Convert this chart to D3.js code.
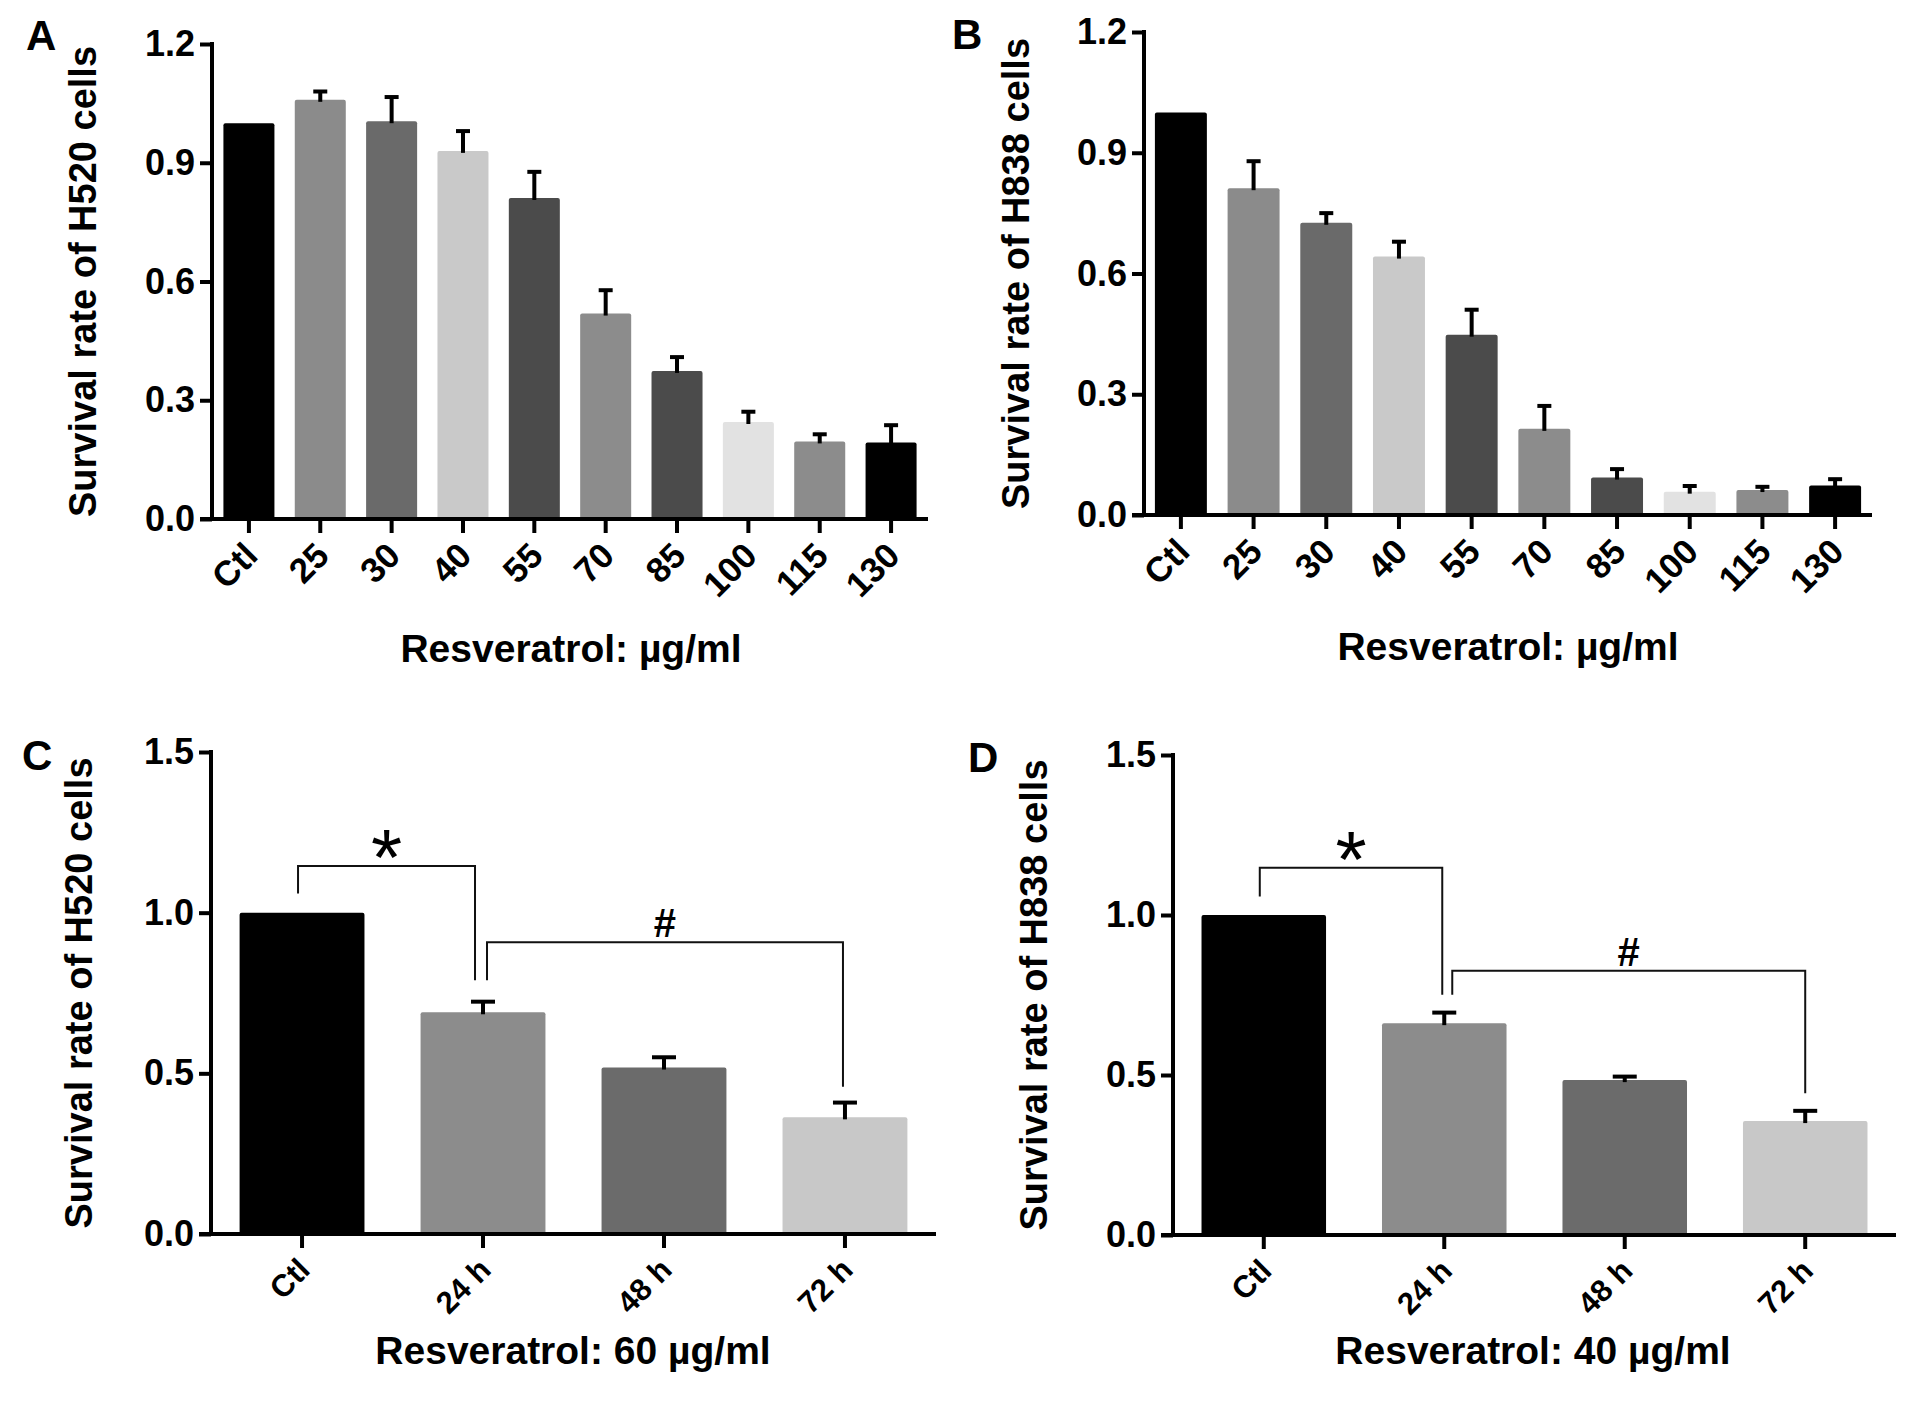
<!DOCTYPE html>
<html>
<head>
<meta charset="utf-8">
<script src="https://cdn.jsdelivr.net/npm/d3@7"></script>
<style>
  body { margin: 0; background: #fff; }
  svg { display: block; }
  text { font-family: "Liberation Sans", Arial, sans-serif; }
</style>
</head>
<body>
<script>
// dose series (A, B)
var doseLabels = ["Ctl", "25", "30", "40", "55", "70", "85", "100", "115", "130"];
var h520Dose = [1.00, 1.059, 1.005, 0.930, 0.811, 0.519, 0.374, 0.245, 0.196, 0.193];
var h520DoseSem = [0, 0.021, 0.061, 0.050, 0.066, 0.059, 0.035, 0.026, 0.018, 0.044];
var h838Dose = [1.00, 0.812, 0.726, 0.642, 0.448, 0.214, 0.093, 0.058, 0.062, 0.073];
var h838DoseSem = [0, 0.067, 0.024, 0.037, 0.062, 0.057, 0.021, 0.014, 0.008, 0.016];
var doseTicks = [0, 0.3, 0.6, 0.9, 1.2];

// time series (C, D)
var timeLabels = ["Ctl", "24 h", "48 h", "72 h"];
var h520Time = [1.00, 0.690, 0.518, 0.363];
var h520TimeSem = [0, 0.033, 0.032, 0.046];
var h838Time = [1.00, 0.662, 0.484, 0.356];
var h838TimeSem = [0, 0.033, 0.011, 0.032];
var timeTicks = [0, 0.5, 1.0, 1.5];

// significance brackets: from / to category, bracket height and leg ends
var h520Sig = [
  {from: "Ctl", to: "24 h", top: 1.145, fromEnd: 1.06, toEnd: 0.79, mark: "*"},
  {from: "24 h", to: "72 h", top: 0.908, fromEnd: 0.79, toEnd: 0.458, mark: "#"}
];
var h838Sig = [
  {from: "Ctl", to: "24 h", top: 1.148, fromEnd: 1.058, toEnd: 0.751, mark: "*"},
  {from: "24 h", to: "72 h", top: 0.826, fromEnd: 0.751, toEnd: 0.443, mark: "#"}
];

var doseColors = ["#000000", "#8b8b8b", "#6a6a6a", "#c9c9c9", "#4b4b4b", "#8c8c8c", "#4b4b4b", "#e2e2e2", "#8c8c8c", "#000000"];
var timeColors = ["#000000", "#8c8c8c", "#6b6b6b", "#c8c8c8"];

var W = 1913, H = 1403;

var svg = d3.select("body")
  .append("svg")
  .attr("width", W)
  .attr("height", H);

svg.append("rect").attr("width", W).attr("height", H).attr("fill", "#fff");

function drawPanel(p) {
  var g = svg.append("g");

  var x = d3.scaleBand()
    .domain(p.cats)
    .range([p.left, p.right])
    .paddingInner(p.padIn)
    .paddingOuter(p.padOut);

  var y = d3.scaleLinear()
    .domain([0, p.ymax])
    .range([p.bottom, p.top]);

  // bars
  g.selectAll("rect.bar")
    .data(p.values)
    .enter()
    .append("rect")
    .attr("class", "bar")
    .attr("x", function(d, i) { return x(p.cats[i]); })
    .attr("y", function(d) { return y(d); })
    .attr("width", x.bandwidth())
    .attr("height", function(d) { return y(0) - y(d); })
    .attr("rx", 2)
    .attr("fill", function(d, i) { return p.colors[i]; });

  // error bars, upper half only
  var errs = p.values.map(function(v, i) { return {c: p.cats[i], v: v, e: p.sem[i]}; })
    .filter(function(d) { return d.e > 0; });
  var eg = g.selectAll("g.err").data(errs).enter().append("g").attr("class", "err")
    .attr("stroke", "#000").attr("stroke-width", 4);
  eg.append("line")
    .attr("x1", function(d) { return x(d.c) + x.bandwidth() / 2; })
    .attr("x2", function(d) { return x(d.c) + x.bandwidth() / 2; })
    .attr("y1", function(d) { return y(d.v) + 2; })
    .attr("y2", function(d) { return y(d.v + d.e); });
  eg.append("line")
    .attr("x1", function(d) { return x(d.c) + x.bandwidth() / 2 - p.cap / 2; })
    .attr("x2", function(d) { return x(d.c) + x.bandwidth() / 2 + p.cap / 2; })
    .attr("y1", function(d) { return y(d.v + d.e); })
    .attr("y2", function(d) { return y(d.v + d.e); });

  // y axis
  var ya = g.append("g")
    .attr("transform", "translate(" + p.left + ",0)")
    .call(d3.axisLeft(y).tickValues(p.ticks).tickFormat(d3.format(".1f"))
      .tickSize(12).tickSizeOuter(0).tickPadding(5));
  ya.select(".domain").attr("stroke-width", 4).attr("d", "M0," + (p.bottom + 2) + "V" + (p.top - 2));
  ya.selectAll(".tick line").attr("stroke-width", 4);
  ya.selectAll(".tick text")
    .attr("fill", "#000")
    .style("font-size", "36px")
    .style("font-weight", "bold");

  // x axis
  var xa = g.append("g")
    .attr("transform", "translate(0," + p.bottom + ")")
    .call(d3.axisBottom(x).tickSize(14).tickSizeOuter(0));
  xa.select(".domain").attr("stroke-width", 4).attr("d", "M" + (p.left - 12) + ",0H" + p.right);
  xa.selectAll(".tick line").attr("stroke-width", 4);
  xa.selectAll(".tick text")
    .attr("fill", "#000")
    .attr("y", null)
    .attr("dy", "0.35em")
    .attr("text-anchor", "end")
    .attr("transform", "translate(" + p.lblDx + ",30) rotate(-45)")
    .style("font-size", p.lblSize + "px")
    .style("font-weight", "bold");
  g.selectAll(".domain, .tick line").attr("stroke", "#000");

  // brackets
  if (p.sig) {
    p.sig.forEach(function(s, k) {
      var xa1 = x(s.from) + x.bandwidth() / 2 + p.legNudge[k][0];
      var xb1 = x(s.to) + x.bandwidth() / 2 + p.legNudge[k][1];
      g.append("path")
        .attr("d", "M" + xa1 + "," + y(s.fromEnd) + "V" + y(s.top) + "H" + xb1 + "V" + y(s.toEnd))
        .attr("fill", "none")
        .attr("stroke", "#111")
        .attr("stroke-width", 2);
      var mx = (xa1 + xb1) / 2;
      if (s.mark === "*") {
        g.append("text")
          .attr("x", mx)
          .attr("y", y(s.top) + 19)
          .attr("text-anchor", "middle")
          .style("font-size", "80px")
          .text(s.mark);
      } else {
        g.append("text")
          .attr("x", mx)
          .attr("y", y(s.top) - 5)
          .attr("text-anchor", "middle")
          .style("font-size", "40px")
          .style("font-weight", "bold")
          .text(s.mark);
      }
    });
  }

  // y title
  g.append("text")
    .attr("transform", "translate(" + p.yTitleX + "," + ((p.top + p.bottom) / 2) + ") rotate(-90)")
    .attr("dy", "0.35em")
    .attr("text-anchor", "middle")
    .style("font-size", "38px")
    .style("font-weight", "bold")
    .text(p.yTitle);

  // x title
  g.append("text")
    .attr("x", p.xTitleX)
    .attr("y", p.xTitleY)
    .attr("text-anchor", "middle")
    .style("font-size", "39px")
    .style("font-weight", "bold")
    .text(p.xTitle);

  // panel letter
  g.append("text")
    .attr("x", p.letterX)
    .attr("y", p.letterY)
    .style("font-size", "42px")
    .style("font-weight", "bold")
    .text(p.letter);
}

drawPanel({
  cats: doseLabels, values: h520Dose, sem: h520DoseSem, colors: doseColors, ticks: doseTicks,
  ymax: 1.2, left: 212, right: 928, top: 44, bottom: 519, padIn: 0.285, padOut: 0.16, cap: 14,
  lblDx: 2, lblSize: 35,
  yTitle: "Survival rate of H520 cells", yTitleX: 83,
  xTitle: "Resveratrol: \u00b5g/ml", xTitleX: 571, xTitleY: 662,
  letter: "A", letterX: 26, letterY: 50
});

drawPanel({
  cats: doseLabels, values: h838Dose, sem: h838DoseSem, colors: doseColors, ticks: doseTicks,
  ymax: 1.2, left: 1144, right: 1872, top: 32, bottom: 515, padIn: 0.285, padOut: 0.15, cap: 14,
  lblDx: 2, lblSize: 35,
  yTitle: "Survival rate of H838 cells", yTitleX: 1016,
  xTitle: "Resveratrol: \u00b5g/ml", xTitleX: 1508, xTitleY: 660,
  letter: "B", letterX: 952, letterY: 49
});

drawPanel({
  cats: timeLabels, values: h520Time, sem: h520TimeSem, colors: timeColors, ticks: timeTicks,
  ymax: 1.5, left: 211, right: 936, top: 752, bottom: 1234, padIn: 0.31, padOut: 0.158, cap: 24,
  lblDx: 2, lblSize: 31,
  sig: h520Sig, legNudge: [[-4, -8], [4, -2]],
  yTitle: "Survival rate of H520 cells", yTitleX: 79,
  xTitle: "Resveratrol: 60 \u00b5g/ml", xTitleX: 573, xTitleY: 1364,
  letter: "C", letterX: 22, letterY: 770
});

drawPanel({
  cats: timeLabels, values: h838Time, sem: h838TimeSem, colors: timeColors, ticks: timeTicks,
  ymax: 1.5, left: 1173, right: 1896, top: 755, bottom: 1235, padIn: 0.31, padOut: 0.158, cap: 24,
  lblDx: 2, lblSize: 31,
  sig: h838Sig, legNudge: [[-4, -2], [8, 0]],
  yTitle: "Survival rate of H838 cells", yTitleX: 1034,
  xTitle: "Resveratrol: 40 \u00b5g/ml", xTitleX: 1533, xTitleY: 1364,
  letter: "D", letterX: 968, letterY: 772
});
</script>
</body>
</html>
